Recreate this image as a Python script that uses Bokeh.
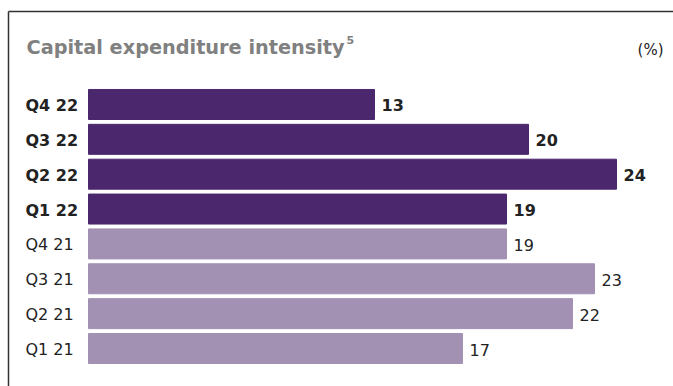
from bokeh.plotting import figure
from bokeh.models import Range1d, ColumnDataSource
from bokeh.embed import file_html
from bokeh.resources import INLINE
from bokeh.core.properties import value

# ---- data ----
categories = ["Q1 21", "Q2 21", "Q3 21", "Q4 21", "Q1 22", "Q2 22", "Q3 22", "Q4 22"]
values = [17, 22, 23, 19, 19, 24, 20, 13]
years = ["2021", "2021", "2021", "2021", "2022", "2022", "2022", "2022"]
title_text = "Capital expenditure intensity"
title_note = "5"
unit_text = "(%)"

W, H = 673, 386
X0_PX, PX_PER_UNIT = 88, 22.0
Y0_PX, PX_PER_ROW = 348.0, 34.86

def dx(px):
    return (px - X0_PX) / PX_PER_UNIT

def dy(px):
    return (Y0_PX - px) / PX_PER_ROW

p = figure(width=W, height=H, output_backend="svg", toolbar_location=None,
           x_range=Range1d(dx(0), dx(W)), y_range=Range1d(dy(H), dy(0)),
           min_border=0, outline_line_color=None, background_fill_color="white")
p.axis.visible = False
p.grid.visible = False

dark = "#4b286d"
light = "#a391b4"
FONT = value("DejaVu Sans")

idx = list(range(len(categories)))
colors = [dark if y == "2022" else light for y in years]
styles = ["bold" if y == "2022" else "normal" for y in years]

src = ColumnDataSource(dict(
    y=idx, v=values, cat=categories, color=colors, style=styles,
    vlab=[str(v) for v in values],
    vx=[v + 7 / PX_PER_UNIT for v in values],
    cx=[dx(25)] * len(idx),
))

p.hbar(y="y", left=0, right="v", height=30 / PX_PER_ROW, color="color", source=src)

p.text(x="cx", y="y", text="cat", text_font=FONT, text_font_size="16px",
       text_font_style="style", text_color="#222222",
       text_align="left", text_baseline="middle", y_offset=1, source=src)
p.text(x="vx", y="y", text="vlab", text_font=FONT, text_font_size="16px",
       text_font_style="style", text_color="#222222",
       text_align="left", text_baseline="middle", y_offset=1, source=src)

# title and unit
p.text(x=[dx(26)], y=[dy(47)], text=[title_text], text_font=FONT,
       text_font_size="19.3px", text_font_style="bold", text_color="#808080",
       text_align="left", text_baseline="alphabetic")
p.text(x=[dx(346)], y=[dy(39)], text=[title_note], text_font=FONT,
       text_font_size="11px", text_font_style="bold", text_color="#808080",
       text_align="left", text_baseline="alphabetic")
p.text(x=[dx(663)], y=[dy(49)], text=[unit_text], text_font=FONT,
       text_font_size="15px", text_color="#222222",
       text_align="right", text_baseline="alphabetic")

# frame border (top and left)
p.segment(x0=[dx(8), dx(8)], y0=[dy(11), dy(11)], x1=[dx(W + 5), dx(8)], y1=[dy(11), dy(H + 5)],
          line_color="#333333", line_width=1.5)

open("out.html", "w").write(file_html(p, INLINE))
